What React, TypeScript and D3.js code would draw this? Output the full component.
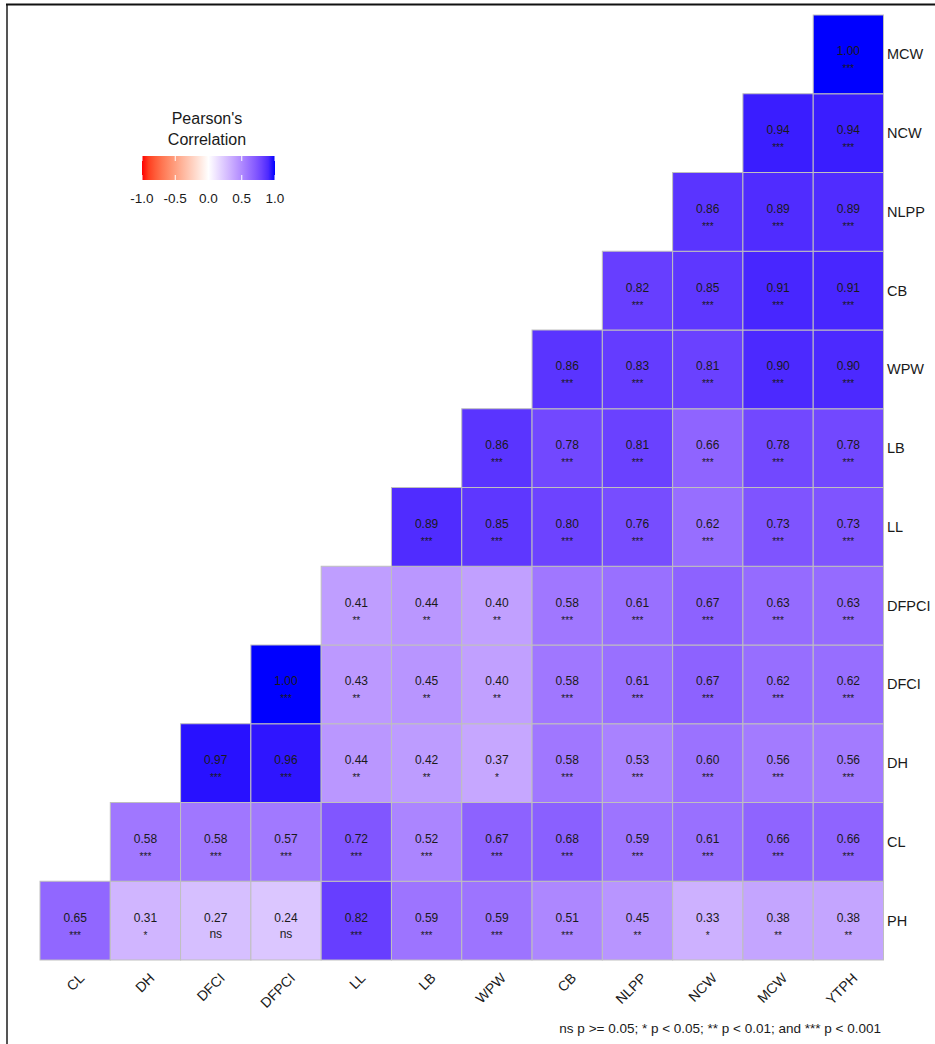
import React from "react";
import * as d3 from "d3";

const xVars = ["CL", "DH", "DFCI", "DFPCI", "LL", "LB", "WPW", "CB", "NLPP", "NCW", "MCW", "YTPH"];
const yVars = ["PH", "CL", "DH", "DFCI", "DFPCI", "LL", "LB", "WPW", "CB", "NLPP", "NCW", "MCW"];

// each row (bottom to top) lists values for columns starting at index = row index
const rowValues: number[][] = [
  [0.65, 0.31, 0.27, 0.24, 0.82, 0.59, 0.59, 0.51, 0.45, 0.33, 0.38, 0.38],
  [0.58, 0.58, 0.57, 0.72, 0.52, 0.67, 0.68, 0.59, 0.61, 0.66, 0.66],
  [0.97, 0.96, 0.44, 0.42, 0.37, 0.58, 0.53, 0.60, 0.56, 0.56],
  [1.0, 0.43, 0.45, 0.40, 0.58, 0.61, 0.67, 0.62, 0.62],
  [0.41, 0.44, 0.40, 0.58, 0.61, 0.67, 0.63, 0.63],
  [0.89, 0.85, 0.80, 0.76, 0.62, 0.73, 0.73],
  [0.86, 0.78, 0.81, 0.66, 0.78, 0.78],
  [0.86, 0.83, 0.81, 0.90, 0.90],
  [0.82, 0.85, 0.91, 0.91],
  [0.86, 0.89, 0.89],
  [0.94, 0.94],
  [1.0],
];
const rowSig: string[][] = [
  ["***", "*", "ns", "ns", "***", "***", "***", "***", "**", "*", "**", "**"],
  ["***", "***", "***", "***", "***", "***", "***", "***", "***", "***", "***"],
  ["***", "***", "**", "**", "*", "***", "***", "***", "***", "***"],
  ["***", "**", "**", "**", "***", "***", "***", "***", "***"],
  ["**", "**", "**", "***", "***", "***", "***", "***"],
  ["***", "***", "***", "***", "***", "***", "***"],
  ["***", "***", "***", "***", "***", "***"],
  ["***", "***", "***", "***", "***"],
  ["***", "***", "***", "***"],
  ["***", "***", "***"],
  ["***", "***"],
  ["***"],
];
const legendTicks = [-1.0, -0.5, 0.0, 0.5, 1.0];
const caption = "ns p >= 0.05; * p < 0.05; ** p < 0.01; and *** p < 0.001";

const FONT = "'Liberation Sans', Arial, sans-serif";

export default function App() {
  const W = 935, H = 1044;
  const left = 40, right = 883.5, top = 15, bottom = 960;
  const x = d3.scaleBand<string>().domain(xVars).range([left, right]);
  const y = d3.scaleBand<string>().domain([...yVars].reverse()).range([top, bottom]);
  const toBlue = d3.interpolateLab("#ffffff", "#0000ff");
  const toRed = d3.interpolateLab("#ffffff", "#ff0000");
  const color = (v: number) => (v >= 0 ? toBlue(v) : toRed(-v));

  const cells: { r: number; c: number; v: number; s: string }[] = [];
  rowValues.forEach((vals, r) => {
    vals.forEach((v, i) => {
      cells.push({ r, c: r + i, v, s: rowSig[r][i] });
    });
  });

  const lx = d3.scaleLinear().domain([-1, 1]).range([142, 275]);
  const gradStops = d3.range(0, 21).map((i) => -1 + i * 0.1);

  return (
    <svg width={W} height={H} style={{ position: "absolute", left: 0, top: 0, background: "#fff" }} fontFamily={FONT}>
      <defs>
        <linearGradient id="lg" x1="0" x2="1" y1="0" y2="0">
          {gradStops.map((v, i) => (
            <stop key={i} offset={`${(i / 20) * 100}%`} stopColor={color(v)} />
          ))}
        </linearGradient>
      </defs>
      <rect x={0} y={0} width={W} height={H} fill="#fff" />
      <line x1={7} x2={7} y1={4} y2={H} stroke="#555" strokeWidth={2} />
      <line x1={6} x2={W} y1={4.5} y2={4.5} stroke="#111" strokeWidth={2} />

      {cells.map((d, i) => {
        const cx = x(xVars[d.c])!;
        const cy = y(yVars[d.r])!;
        const bw = x.bandwidth(), bh = y.bandwidth();
        return (
          <g key={i}>
            <rect x={cx} y={cy} width={bw} height={bh} fill={color(d.v)} stroke="#bfbfbf" strokeWidth={1} />
            <text x={cx + bw / 2} y={cy + bh / 2 + 1} textAnchor="middle" fontSize={12} fill="#1a1a1a">
              {d.v.toFixed(2)}
            </text>
            <text
              x={cx + bw / 2}
              y={cy + bh / 2 + (d.s === "ns" ? 17 : 18)}
              textAnchor="middle"
              fontSize={d.s === "ns" ? 12 : 10}
              fill="#1a1a1a"
            >
              {d.s}
            </text>
          </g>
        );
      })}

      {yVars.map((v) => (
        <text key={v} x={887} y={y(v)! + y.bandwidth() / 2 + 5} fontSize={14.5} fill="#1a1a1a">
          {v}
        </text>
      ))}
      {xVars.map((v) => {
        const cx = x(v)! + x.bandwidth() / 2 + 10;
        const cy = 979;
        return (
          <text
            key={v}
            transform={`translate(${cx},${cy}) rotate(-45)`}
            textAnchor="end"
            fontSize={14}
            fill="#1a1a1a"
          >
            {v}
          </text>
        );
      })}

      <text x={207} y={124} textAnchor="middle" fontSize={16} fill="#1a1a1a">Pearson's</text>
      <text x={207} y={145} textAnchor="middle" fontSize={16} fill="#1a1a1a">Correlation</text>
      <rect x={142} y={156} width={133} height={24} fill="url(#lg)" />
      {legendTicks.map((t) => (
        <g key={t}>
          <line x1={lx(t)} x2={lx(t)} y1={156} y2={161} stroke="#fff" strokeWidth={1} />
          <line x1={lx(t)} x2={lx(t)} y1={175} y2={180} stroke="#fff" strokeWidth={1} />
          <text x={lx(t)} y={203} textAnchor="middle" fontSize={13.5} fill="#1a1a1a">
            {t.toFixed(1)}
          </text>
        </g>
      ))}

      <text x={881} y={1033} textAnchor="end" fontSize={13.5} fill="#1a1a1a">{caption}</text>
    </svg>
  );
}
